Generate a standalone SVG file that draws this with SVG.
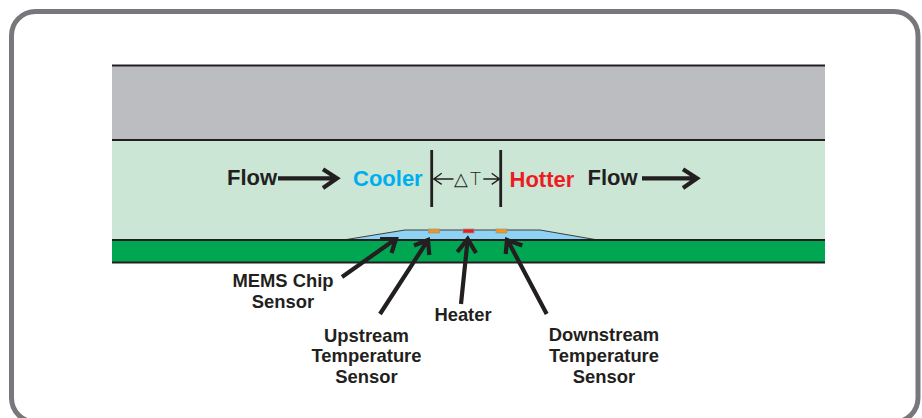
<svg xmlns="http://www.w3.org/2000/svg" width="922" height="418" viewBox="0 0 922 418">
<style>
text{font-family:"Liberation Sans",Arial,sans-serif;font-weight:bold;fill:#231f20}
.l{font-size:18.4px;text-anchor:middle}
.f{font-size:22px}
.b{fill:none;stroke:#231f20;stroke-width:4.2}
.h{fill:none;stroke:#231f20;stroke-width:2.8}
.t{fill:none;stroke:#231f20;stroke-width:1.4}
.line{stroke:#231f20;stroke-width:1.8}
.s{stroke:#8a9a8c;stroke-width:.7}
</style>
<rect width="922" height="418" fill="#fff"/>
<g id="frame"><rect x="11.500" y="11.500" width="906.500" height="410.500" rx="24" fill="#fff" stroke="#77787b" stroke-width="5"/></g>
<g id="layers">
<rect x="112" y="66" width="713" height="74" fill="#bcbdc0"/>
<rect x="112" y="140" width="713" height="100" fill="#cbe6d5"/>
<rect x="112" y="240" width="713" height="23" fill="#00a651"/>
</g>
<g id="chip"><path d="M346.500 239.500L405 230H540L595 239.500Z" fill="#8fd3f4" stroke="#414042" stroke-width="1.200"/></g>
<g id="layer-lines"><path class="line" d="M112 65.500H825M112 140H825M112 240H825M112 262.500H825" fill="none"/></g>
<g id="connectors">
<path class="b" d="M278 178.300H336M323 169.300L337 178.300L323 188"/>
<path class="b" d="M642 178.300H696M683 169.300L697 178.300L683 188"/>
<path class="h" d="M431.700 150V207M500.700 150V207"/>
<path class="t" d="M453.500 179H434M441.700 173.300L433.800 179L441.700 184.300"/>
<path class="t" d="M483.300 179H499M491.700 173.300L499.500 179L491.700 184.300"/>
<path class="b" d="M342 277L395 239.500M380 239H396L391.500 253"/>
<path class="b" d="M380 314L428 240M414 245.500L428 240L429.300 255"/>
<path class="b" d="M461 304L467.500 241M457.300 252L467.700 239L476 253"/>
<path class="b" d="M546.700 314L508 241M505.700 254L507 240L522.300 245.500"/>
</g>
<g id="upstream-sensor"><rect class="s" x="428.500" y="229" width="11" height="4" fill="#f7941d"/></g>
<g id="heater"><rect class="s" x="463" y="229" width="11" height="4" fill="#ed1c24"/></g>
<g id="downstream-sensor"><rect class="s" x="496" y="229" width="11" height="4" fill="#f7941d"/></g>
<g id="labels">
<text class="f" x="227" y="184.500">Flow</text>
<text class="f" x="353" y="186" style="fill:#00aeef">Cooler</text>
<text class="f" x="509.500" y="187" style="fill:#ed1c24">Hotter</text>
<text class="f" x="587.500" y="184.500">Flow</text>
<text x="454" y="185" style="font-size:18px;font-weight:200;fill:#231f20;font-family:'DejaVu Sans',sans-serif;letter-spacing:2px">△T</text>
<text class="l" x="283" y="287">MEMS Chip</text>
<text class="l" x="283" y="308">Sensor</text>
<text class="l" x="366.500" y="342">Upstream</text>
<text class="l" x="366.500" y="362">Temperature</text>
<text class="l" x="366.500" y="382.500">Sensor</text>
<text class="l" x="463" y="321">Heater</text>
<text class="l" x="604" y="341">Downstream</text>
<text class="l" x="604" y="362">Temperature</text>
<text class="l" x="604" y="382.500">Sensor</text>
</g>
</svg>
